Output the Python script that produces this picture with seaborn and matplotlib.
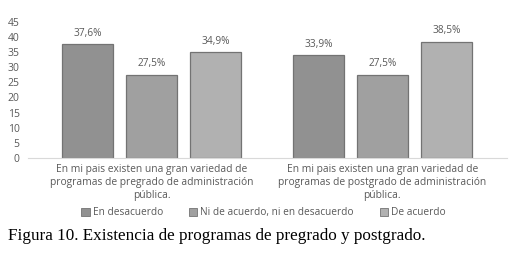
import matplotlib
matplotlib.use("Agg")
import matplotlib.pyplot as plt
import seaborn as sns
import pandas as pd
from matplotlib.patches import Patch

categories = [
    "En mi pais existen una gran variedad de\nprogramas de pregrado de administración\npública.",
    "En mi pais existen una gran variedad de\nprogramas de postgrado de administración\npública.",
]
series_names = ["En desacuerdo", "Ni de acuerdo, ni en desacuerdo", "De acuerdo"]
en_desacuerdo = [37.6, 33.9]
ni_ni = [27.5, 27.5]
de_acuerdo = [34.9, 38.5]
value_labels = [["37,6%", "33,9%"], ["27,5%", "27,5%"], ["34,9%", "38,5%"]]
yticks = [0, 5, 10, 15, 20, 25, 30, 35, 40, 45]
caption = "Figura 10. Existencia de programas de pregrado y postgrado."

rows = []
for name, vals in zip(series_names, [en_desacuerdo, ni_ni, de_acuerdo]):
    for c, v in zip(categories, vals):
        rows.append({"cat": c, "serie": name, "val": v})
df = pd.DataFrame(rows)

sns.set_theme(style="white")
plt.rcParams["font.family"] = ["Open Sans", "DejaVu Sans"]

fig = plt.figure(figsize=(5.14, 2.70), dpi=100)
ax = fig.add_axes([0.0545, 0.415, 0.932, 0.504])

palette = ["#919191", "#a0a0a0", "#b1b1b1"]
sns.barplot(data=df, x="cat", y="val", hue="serie", order=categories,
            hue_order=series_names, palette=palette, width=0.83, gap=0.2,
            edgecolor="#737373", linewidth=0.9, saturation=1, ax=ax, legend=False)

for i, cont in enumerate(ax.containers):
    ax.bar_label(cont, labels=value_labels[i], padding=4, fontsize=7.3, color="#595959")

ax.set_ylim(0, 45)
ax.set_xlim(-0.535, 1.54)
ax.set_yticks(yticks)
ax.tick_params(axis="y", labelsize=7.5, colors="#595959", length=0, pad=6)
ax.tick_params(axis="x", labelsize=7.4, colors="#595959", length=0, pad=4)
for lbl in ax.get_xticklabels():
    lbl.set_linespacing(1.3)
ax.set_xlabel("")
ax.set_ylabel("")
for s in ["top", "right", "left"]:
    ax.spines[s].set_visible(False)
ax.spines["bottom"].set_color("#d9d9d9")
ax.spines["bottom"].set_linewidth(0.8)

handles = [Patch(facecolor=p, edgecolor="#737373", linewidth=0.6) for p in palette]
fig.legend(handles, series_names, loc="center", bbox_to_anchor=(0.513, 0.212),
           ncol=3, frameon=False, fontsize=7.3, labelcolor="#595959",
           handlelength=0.8, handleheight=0.8, handletextpad=0.3, columnspacing=2.6)

fig.text(0.016, 0.125, caption, family="Liberation Serif", fontsize=12.3, color="black",
         va="center", ha="left")

fig.savefig("out.png", dpi=100, facecolor="white")
